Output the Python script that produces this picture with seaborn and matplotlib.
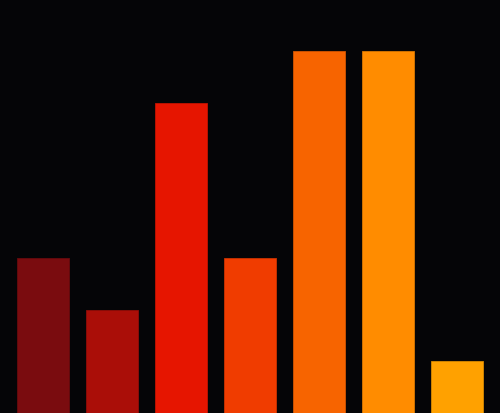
import matplotlib
matplotlib.use("Agg")
import matplotlib.pyplot as plt
import matplotlib.colors as mcolors
import seaborn as sns
import pandas as pd

# Data
categories = ["A", "B", "C", "D", "E", "F", "G"]
values = [3, 2, 6, 3, 7, 7, 1]
bar_colors = ["#7a0c0f", "#aa0e08", "#e61500", "#f03c00", "#f76400", "#ff8c00", "#ffa100"]

df = pd.DataFrame({"category": categories, "value": values})

sns.set_theme(style="white")
bg = "#050507"

fig = plt.figure(figsize=(5, 4.14), dpi=100, facecolor=bg)
ax = fig.add_axes([0, 0, 1, 1])
ax.set_facecolor(bg)

sns.barplot(
    data=df, x="category", y="value", hue="category",
    palette=dict(zip(categories, bar_colors)),
    saturation=1, width=0.75, legend=False, ax=ax,
)

# thin darker outline on each bar
for patch in ax.patches:
    r, g, b, a = patch.get_facecolor()
    patch.set_edgecolor((r * 0.85, g * 0.85, b * 0.85, 1))
    patch.set_linewidth(0.6)

ax.set_xlim(-0.623, 6.623)
ax.set_ylim(0, 8)
ax.set_axis_off()

plt.savefig("out.png", dpi=100, facecolor=bg)
